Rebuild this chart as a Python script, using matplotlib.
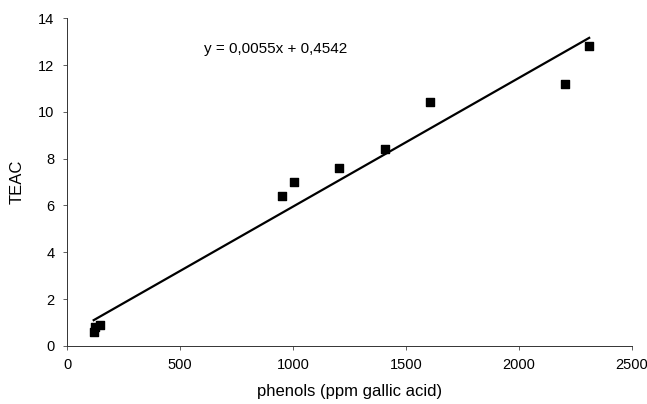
import numpy as np
import matplotlib
matplotlib.use("Agg")
import matplotlib.pyplot as plt

plt.rcParams['font.family'] = ['Liberation Sans', 'DejaVu Sans']

phenols = [118, 122, 145, 952, 1005, 1205, 1405, 1605, 2205, 2310]
teac = [0.6, 0.8, 0.9, 6.4, 7.0, 7.6, 8.4, 10.4, 11.2, 12.8]
slope = 0.0055
intercept = 0.4542

fig = plt.figure(figsize=(6.47, 4.04), dpi=100)
ax = fig.add_axes([0.1036, 0.1436, 0.8734, 0.8114])

ax.scatter(phenols, teac, marker='s', s=30, color='black', zorder=3)
xfit = np.array([min(phenols), max(phenols)])
ax.plot(xfit, slope * xfit + intercept, color='black', lw=1.6)

ax.set_xlim(0, 2500)
ax.set_ylim(0, 14)
ax.set_xticks(np.arange(0, 2501, 500))
ax.set_yticks(np.arange(0, 15, 2))
ax.tick_params(labelsize=10.5, length=3, width=0.6, color='#444444', pad=6)

for s in ['top', 'right']:
    ax.spines[s].set_visible(False)
for s in ['left', 'bottom']:
    ax.spines[s].set_linewidth(0.7)
    ax.spines[s].set_color('#333333')

ax.set_xlabel('phenols (ppm gallic acid)', fontsize=12, labelpad=8)
ax.set_ylabel('TEAC', fontsize=12, labelpad=10)

ax.text(0.37, 0.905, 'y = 0,0055x + 0,4542', transform=ax.transAxes,
        ha='center', va='center', fontsize=11)

plt.savefig('out.png', dpi=100)
